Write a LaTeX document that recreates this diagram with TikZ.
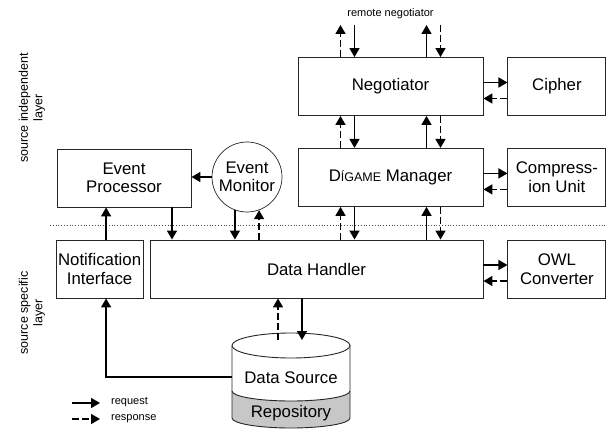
\documentclass[tikz,border=0pt]{standalone}
\usepackage{fontspec}
\setmainfont{Liberation Sans}
\usetikzlibrary{arrows.meta,positioning,calc}

\begin{document}
\begin{tikzpicture}[x=1pt, y=1pt,
  blk/.style={rectangle, draw=black!85, line width=0.9pt, minimum height=58pt,
    align=center, font=\fontsize{16.8}{18.5}\selectfont, inner sep=1pt},
  req/.style={-{Triangle[length=9pt,width=10pt]}, line width=1.5pt},
  resp/.style={req, dash pattern=on 7pt off 3pt},
  side/.style={rotate=90, align=center, font=\fontsize{12.5}{14.5}\selectfont},
  small/.style={font=\fontsize{11}{13}\selectfont},
  node distance=24pt
]
\useasboundingbox (0,0) rectangle (607,429);

% source independent layer
\node[blk, minimum width=185pt] (neg) at (390.5,342.5) {Negotiator};
\node[blk, minimum width=98pt, right=of neg] (ciph) {Cipher};
\node[blk, minimum width=185pt, below=32pt of neg] (mgr)
  {D{\fontsize{12.5}{14}\selectfont ÍGAME} Manager};
\node[blk, minimum width=98pt, right=of mgr] (comp) {Compress-\\ion Unit};
\node[blk, minimum width=134pt] (evp) at (124,251) {Event\\Processor};
\node[circle, draw=black!85, line width=0.7pt, minimum size=70pt, inner sep=0pt,
  align=center, font=\fontsize{16.8}{18.5}\selectfont] (evm) at (247,252) {Event\\Monitor};

% source specific layer
\node[blk, minimum width=333pt] (dh) at (316.5,160) {Data Handler};
\node[blk, minimum width=98pt, right=of dh] (owl) {OWL\\Converter};
\node[blk, minimum width=87pt, left=6pt of dh] (notif) {Notification\\Interface};

% layer separator
\draw[black!70, line width=0.8pt, dash pattern=on 0.8pt off 2pt] (50,204) -- (607,204);

\node[side] (indep) at (32,321) {source independent\\layer};
\node[side] (spec) at (32,116) {source specific\\layer};

% repository cylinder
\fill[black!22] (232,38) arc[start angle=180, end angle=360, x radius=59, y radius=10]
  -- (350,11) arc[start angle=0, end angle=-180, x radius=59, y radius=10] -- cycle;
\draw[black!85, line width=0.9pt] (232,83.5) -- (232,11)
  arc[start angle=180, end angle=360, x radius=59, y radius=10] -- (350,83.5);
\draw[black!85, line width=0.9pt] (291,83.5) ellipse[x radius=59, y radius=12.5];
\draw[black!85, line width=0.9pt] (232,38) arc[start angle=180, end angle=360, x radius=59, y radius=10];
\node[font=\fontsize{16.8}{18.5}\selectfont] (src) at (291,51) {Data Source};
\node[font=\fontsize{16.8}{18.5}\selectfont] (repo) at (291,16) {Repository};
\coordinate (srcw) at (232,52);
\coordinate (srctop) at (290,89);

% remote side
\node[small] (rtxt) at (390.5,415) {remote negotiator};
\coordinate (remote) at (390.5,404);

\draw[resp] ([xshift=-50pt]neg.north) -- ([xshift=-50pt]neg.north |- remote);
\draw[req] ([xshift=-36pt]neg.north |- remote) -- ([xshift=-36pt]neg.north);
\draw[req] ([xshift=36pt]neg.north) -- ([xshift=36pt]neg.north |- remote);
\draw[resp] ([xshift=50pt]neg.north |- remote) -- ([xshift=50pt]neg.north);

% vertical request/response pairs
\foreach \a/\b in {neg/mgr, mgr/dh} {
  \draw[resp] ([xshift=-50pt]\a.south |- \b.north) -- ([xshift=-50pt]\a.south);
  \draw[req] ([xshift=-36pt]\a.south) -- ([xshift=-36pt]\a.south |- \b.north);
  \draw[req] ([xshift=36pt]\a.south |- \b.north) -- ([xshift=36pt]\a.south);
  \draw[resp] ([xshift=50pt]\a.south) -- ([xshift=50pt]\a.south |- \b.north);
}

% side units
\foreach \l/\r in {neg/ciph, mgr/comp, dh/owl} {
  \draw[req] ([yshift=4pt]\l.east) -- ([yshift=4pt]\r.west);
  \draw[resp] ([yshift=-12pt]\r.west) -- ([yshift=-12pt]\l.east);
}

% event path
\draw[req] (evm.west) -- (evm.west -| evp.east);
\draw[req] (evm.250) -- (evm.250 |- dh.north);
\draw[resp] (evm.290 |- dh.north) -- (evm.290);
\draw[req] ([xshift=48pt]evp.south) -- ([xshift=48pt]evp.south |- dh.north);
\draw[req] ([xshift=6.5pt]notif.north) -- ([xshift=6.5pt]notif.north |- evp.south);
\draw[req, -{Triangle[length=9pt,width=10pt]}] (srcw) -| ([xshift=6.5pt]notif.south);

% data source access
\draw[resp] ([xshift=-12pt]srctop) -- ([xshift=-12pt]srctop |- dh.south);
\draw[req] ([xshift=12pt]srctop |- dh.south) -- ([xshift=12pt]srctop);

% legend
\coordinate (lq) at (72,26);
\coordinate (lqe) at (100,26);
\coordinate (lr) at (72,10);
\coordinate (lre) at (100,10);
\draw[req] (lq) -- (lqe);
\draw[resp] (lr) -- (lre);
\node[small, anchor=west, inner sep=0pt] (legreq) at (111,27) {request};
\node[small, anchor=west, inner sep=0pt] (legresp) at (111,10) {response};
\end{tikzpicture}
\end{document}
